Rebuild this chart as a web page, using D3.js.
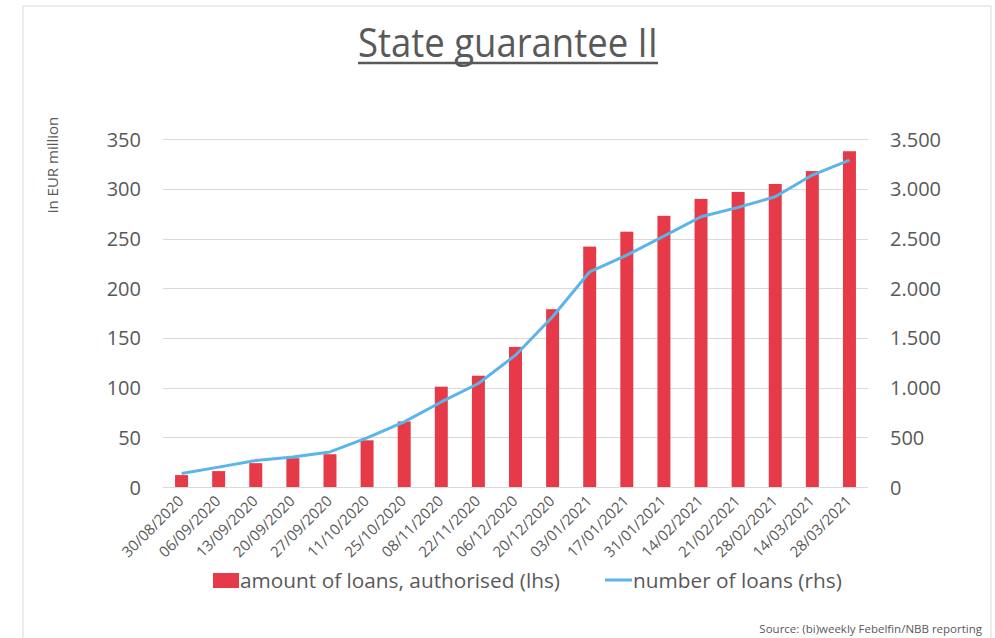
<!DOCTYPE html>
<html>
<head>
<meta charset="utf-8">
<script src="https://cdn.jsdelivr.net/npm/d3@7"></script>
<style>
body{margin:0;background:#fff;}
svg text{font-family:"Open Sans",sans-serif;fill:#595959;}
</style>
</head>
<body>
<svg id="chart" width="995" height="638"></svg>
<script>
// values
var dates=["30/08/2020","06/09/2020","13/09/2020","20/09/2020","27/09/2020","11/10/2020","25/10/2020","08/11/2020","22/11/2020","06/12/2020","20/12/2020","03/01/2021","17/01/2021","31/01/2021","14/02/2021","21/02/2021","28/02/2021","14/03/2021","28/03/2021"]
var amounts=[12,16,24,29,33,47,66,101,112,141,179,242,257,273,290,297,305,318,338]
var counts=[135,200,266,302,353,494,655,856,1042,1327,1713,2166,2334,2526,2720,2815,2922,3140,3291]
var leftTicks=[0,50,100,150,200,250,300,350]
var rightTicks=[0,500,1000,1500,2000,2500,3000,3500]

var plotLeft=163,plotRight=868,plotTop=139.3,plotBottom=487

var svg=d3.select("#chart")

// frame
svg.append("rect")
.attr("x",23).attr("y",6)
.attr("width",968).attr("height",650)
.attr("fill","none")
.attr("stroke","#d9d9d9")
.attr("stroke-width",1)

var locale=d3.formatLocale({decimal:",",thousands:".",grouping:[3],currency:["","€"]})
var fmt=locale.format(",")

var xScale=d3.scaleBand()
.domain(dates)
.range([plotLeft,plotRight])
.paddingInner(0.65)
.paddingOuter(0.325)

var yLeft=d3.scaleLinear().domain([0,350]).range([plotBottom,plotTop])
var yRight=d3.scaleLinear().domain([0,3500]).range([plotBottom,plotTop])

// grid lines
svg.append("g")
.selectAll("line")
.data(leftTicks)
.enter()
.append("line")
.attr("x1",plotLeft).attr("x2",plotRight)
.attr("y1",d=>Math.round(yLeft(d))+0.5).attr("y2",d=>Math.round(yLeft(d))+0.5)
.attr("stroke","#d9d9d9")
.attr("stroke-width",1)

// left axis labels
var yAxisL=d3.axisLeft(yLeft).tickValues(leftTicks).tickSize(0).tickPadding(0)
var gl=svg.append("g")
.attr("transform","translate(141,0)")
.call(yAxisL)
gl.select(".domain").remove()
gl.selectAll("text").attr("font-size",20).attr("font-family","Open Sans").attr("fill","#595959").attr("dy","0.35em")

// right axis labels
var yAxisR=d3.axisRight(yRight).tickValues(rightTicks).tickFormat(fmt).tickSize(0).tickPadding(0)
var gr=svg.append("g")
.attr("transform","translate(890,0)")
.call(yAxisR)
gr.select(".domain").remove()
gr.selectAll("text").attr("font-size",20).attr("font-family","Open Sans").attr("fill","#595959").attr("dy","0.35em")

// bars
svg.append("g")
.selectAll(".bar")
.data(dates)
.enter()
.append("rect")
.classed("bar",true)
.attr("x",d=>xScale(d))
.attr("width",xScale.bandwidth())
.attr("y",(d,i)=>yLeft(amounts[i]))
.attr("height",(d,i)=>plotBottom-yLeft(amounts[i]))
.attr("fill","#e63a48")

// line
var line=d3.line()
.x((d,i)=>xScale(dates[i])+xScale.bandwidth()/2)
.y(d=>yRight(d))

svg.append("path")
.datum(counts)
.attr("d",line)
.attr("fill","none")
.attr("stroke","#5bb5e8")
.attr("stroke-width",3)
.attr("stroke-linejoin","round")

// x labels
svg.append("g")
.selectAll("text")
.data(dates)
.enter()
.append("text")
.attr("transform",d=>"translate("+(xScale(d)+xScale.bandwidth()/2+3)+","+(plotBottom+15)+") rotate(-45)")
.attr("text-anchor","end")
.attr("font-size",15)
.attr("fill","#666")
.text(d=>d)

// title
svg.append("text")
.attr("x",508).attr("y",57)
.attr("text-anchor","middle")
.attr("font-size",40)
.attr("textLength",300)
.attr("lengthAdjust","spacingAndGlyphs")
.text("State guarantee II")
svg.append("line")
.attr("x1",358).attr("x2",658)
.attr("y1",63).attr("y2",63)
.attr("stroke","#595959")
.attr("stroke-width",2.5)

// axis title
svg.append("text")
.attr("transform","translate(58,165) rotate(-90)")
.attr("text-anchor","middle")
.attr("font-size",15)
.attr("fill","#404040")
.text("in EUR million")

// legend
svg.append("rect")
.attr("x",213).attr("y",573)
.attr("width",26).attr("height",15)
.attr("fill","#e63a48")
svg.append("text")
.attr("x",240).attr("y",588)
.attr("font-size",20.8)
.text("amount of loans, authorised (lhs)")
svg.append("line")
.attr("x1",605).attr("x2",632)
.attr("y1",580).attr("y2",580)
.attr("stroke","#5bb5e8")
.attr("stroke-width",3)
svg.append("text")
.attr("x",633).attr("y",588)
.attr("font-size",20.8)
.text("number of loans (rhs)")

// source
svg.append("text")
.attr("x",982).attr("y",633)
.attr("text-anchor","end")
.attr("font-size",11.5)
.attr("fill","#000")
.text("Source: (bi)weekly Febelfin/NBB reporting")
</script>
</body>
</html>
